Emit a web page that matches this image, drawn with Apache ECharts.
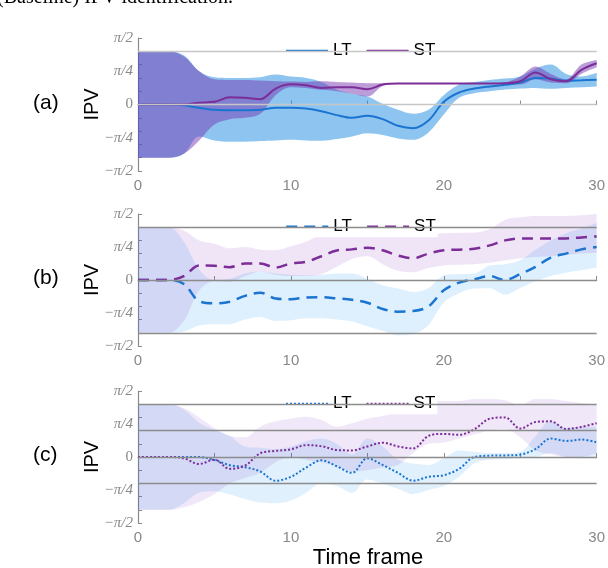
<!DOCTYPE html>
<html><head><meta charset="utf-8">
<script src="https://cdn.jsdelivr.net/npm/echarts@6/dist/echarts.min.js"></script>
<style>html,body{margin:0;padding:0;background:#fff}#c{width:608px;height:568px}</style>
</head><body><div id="c"></div>
<script>
// Time frames (x) and tick labels
const frames = [0,1,2,3,4,5,6,7,8,9,10,11,12,13,14,15,16,17,18,19,20,21,22,23,24,25,26,27,28,29,30];
const xTickLabels = ['0','10','20','30'];
const yTickLabels = ['−π/2','−π/4','0','π/4','π/2'];
const panelLabels = ['(a)','(b)','(c)'];
const legendNames = ['LT','ST'];
const titleText = '(Baseline) IPV identification.';
const xName = 'Time frame';
const yName = 'IPV';
// IPV values below are in units of π
// (a)
const aLT   = [0,0,0,-0.005,-0.025,-0.04,-0.043,-0.043,-0.04,-0.025,-0.024,-0.03,-0.05,-0.08,-0.1,-0.085,-0.11,-0.16,-0.178,-0.12,0.02,0.09,0.12,0.136,0.148,0.165,0.2,0.195,0.178,0.182,0.187];
const aLTup = [0.4,0.4,0.4,0.37,0.25,0.205,0.2,0.2,0.205,0.225,0.21,0.2,0.17,0.11,0.08,0.06,0.005,-0.04,-0.07,-0.04,0.07,0.15,0.17,0.185,0.195,0.21,0.27,0.3,0.23,0.21,0.238];
const aLTlo = [-0.4,-0.4,-0.4,-0.37,-0.24,-0.27,-0.28,-0.28,-0.275,-0.27,-0.265,-0.27,-0.273,-0.26,-0.24,-0.217,-0.23,-0.255,-0.265,-0.21,-0.075,0.05,0.085,0.1,0.113,0.12,0.125,0.118,0.125,0.13,0.136];
const aST   = [0,0,0,0,0.014,0.02,0.055,0.05,0.04,0.12,0.152,0.145,0.125,0.13,0.13,0.115,0.15,0.158,0.158,0.158,0.158,0.158,0.158,0.158,0.16,0.175,0.24,0.19,0.175,0.26,0.31];
const aSTup = [0.4,0.4,0.4,0.36,0.25,0.19,0.185,0.185,0.18,0.175,0.172,0.17,0.175,0.17,0.165,0.16,0.16,0.158,0.158,0.158,0.158,0.158,0.158,0.158,0.165,0.21,0.285,0.23,0.19,0.3,0.335];
const aSTlo = [-0.4,-0.4,-0.4,-0.37,-0.27,-0.15,-0.11,-0.1,-0.07,0.07,0.13,0.125,0.11,0.1,0.08,0.06,0.14,0.155,0.156,0.156,0.156,0.156,0.156,0.156,0.155,0.15,0.19,0.165,0.16,0.23,0.28];
// (b)
const bLT   = [0,0,0,-0.03,-0.16,-0.176,-0.165,-0.12,-0.097,-0.14,-0.146,-0.132,-0.13,-0.139,-0.15,-0.172,-0.22,-0.24,-0.235,-0.2,-0.078,-0.02,0.005,0.03,0.0,0.045,0.1,0.17,0.2,0.232,0.25];
const bLTup = [0.4,0.4,0.4,0.29,0.08,0.0,0.01,0.05,0.065,0.05,0.04,0.035,0.04,0.05,0.05,0.01,-0.04,-0.065,-0.09,-0.06,0.035,0.045,0.05,0.11,0.12,0.15,0.23,0.3,0.355,0.39,0.433];
const bLTlo = [-0.4,-0.4,-0.4,-0.39,-0.345,-0.335,-0.335,-0.3,-0.28,-0.31,-0.305,-0.29,-0.29,-0.3,-0.315,-0.35,-0.385,-0.42,-0.41,-0.34,-0.17,-0.1,-0.065,-0.062,-0.11,-0.06,-0.01,0.03,0.055,0.075,0.093];
const bST   = [0,0,0,0.03,0.11,0.108,0.097,0.125,0.125,0.095,0.125,0.138,0.18,0.224,0.232,0.244,0.225,0.185,0.165,0.2,0.225,0.23,0.237,0.262,0.3,0.315,0.315,0.315,0.315,0.322,0.33];
const bSTup = [0.4,0.4,0.4,0.375,0.3,0.275,0.24,0.25,0.23,0.225,0.255,0.29,0.345,0.37,0.335,0.36,0.36,0.355,0.35,0.35,0.355,0.357,0.36,0.385,0.455,0.475,0.485,0.485,0.485,0.49,0.5];
const bSTlo = [-0.4,-0.4,-0.4,-0.31,-0.08,-0.01,-0.015,0.03,0.065,0.04,0.03,0.03,0.045,0.1,0.16,0.18,0.12,0.07,0.058,0.09,0.11,0.115,0.12,0.13,0.15,0.165,0.175,0.18,0.19,0.2,0.206];
// (c)
const cLT   = [0,0,0,0,0,-0.023,-0.062,-0.077,-0.11,-0.18,-0.15,-0.08,-0.025,-0.07,-0.12,-0.01,-0.06,-0.12,-0.18,-0.15,-0.138,-0.09,0.0,0.01,0.012,0.018,0.06,0.14,0.122,0.132,0.111];
const cLTup = [0.4,0.4,0.4,0.36,0.26,0.205,0.16,0.08,0.07,0.06,0.08,0.12,0.14,0.1,0.02,0.14,0.08,-0.02,-0.05,-0.06,-0.01,0.05,0.04,0.03,0.03,0.04,0.16,0.27,0.22,0.23,0.23];
const cLTlo = [-0.4,-0.4,-0.4,-0.35,-0.27,-0.26,-0.285,-0.32,-0.345,-0.35,-0.33,-0.27,-0.2,-0.22,-0.27,-0.17,-0.2,-0.24,-0.28,-0.25,-0.22,-0.15,-0.05,-0.02,-0.015,-0.01,0.0,0.03,0.0,-0.01,-0.01];
const cST   = [0,0,0,-0.01,-0.053,-0.02,-0.09,-0.065,0.028,0.046,0.058,0.09,0.082,0.053,0.05,0.08,0.108,0.08,0.065,0.16,0.175,0.168,0.21,0.29,0.3,0.215,0.265,0.27,0.212,0.228,0.256];
const cSTup = [0.4,0.4,0.4,0.37,0.3,0.22,0.16,0.15,0.23,0.27,0.29,0.305,0.28,0.23,0.255,0.29,0.31,0.34,0.39,0.42,0.425,0.425,0.44,0.44,0.43,0.395,0.44,0.44,0.425,0.41,0.395];
const cSTlo = [-0.4,-0.4,-0.4,-0.38,-0.34,-0.28,-0.2,-0.16,-0.12,-0.04,0.0,-0.02,-0.04,-0.07,-0.11,-0.1,-0.08,-0.06,0.03,0.1,0.11,0.14,0.17,0.2,0.21,0.15,0.05,0.02,0.0,0.0,0.03];
// horizontal reference lines per panel
const aRefLines = [0.4, 0];
const bRefLines = [0.4, 0, -0.4];
const cRefLines = [0.4, 0.2, 0, -0.2];

const panels = [
  {LT:aLT, LTup:aLTup, LTlo:aLTlo, ST:aST, STup:aSTup, STlo:aSTlo, ref:aRefLines},
  {LT:bLT, LTup:bLTup, LTlo:bLTlo, ST:bST, STup:bSTup, STlo:bSTlo, ref:bRefLines},
  {LT:cLT, LTup:cLTup, LTlo:cLTlo, ST:cST, STup:cSTup, STlo:cSTlo, ref:cRefLines}
];
// styles
const tops = [38, 214, 391];
const heights = [133, 132, 132];
const LTcolor = '#1a74d0', STcolor = '#7b2d98';
const bandLT = ['rgba(30,140,225,0.5)','rgba(0,140,240,0.13)','rgba(0,140,240,0.12)'];
const bandST = ['rgba(115,50,175,0.48)','rgba(120,40,190,0.12)','rgba(120,40,190,0.11)'];
const refColor = ['#c6c6c6','#8c8c8c','#8c8c8c'];
const lineTypes = ['solid', [11,7], [2,2]];
const lineWidths = [2, 2.5, 2];
const axisGray = '#8c8c8c';
const SM = 0.35;

const diff = (up, lo) => up.map((u,i) => u - lo[i]);

const grid = [], xAxis = [], yAxis = [], series = [], legend = [], graphic = [];
panels.forEach((p, k) => {
  grid.push({left:138, right:9, top:tops[k], height:heights[k]});
  xAxis.push({gridIndex:k, type:'category', data:frames, boundaryGap:false,
    axisLine:{lineStyle:{color:axisGray, width:1.2}},
    axisTick:{inside:true, length:4, interval:4, lineStyle:{color:axisGray}},
    splitLine:{show:false},
    axisLabel:{interval:9, margin:7, color:'#888', fontSize:15, fontFamily:'Liberation Sans',
      formatter: v => xTickLabels[Number(v)/10]}
  });
  yAxis.push({gridIndex:k, type:'value', min:-0.5, max:0.5, interval:0.1, position:'left',
    axisLine:{show:true, lineStyle:{color:axisGray, width:1.2}},
    axisTick:{show:true, inside:true, length:4, lineStyle:{color:axisGray}},
    axisLabel:{show:false}, splitLine:{show:false}
  });
  yAxis.push({gridIndex:k, type:'value', min:-0.5, max:0.5, interval:0.25, position:'left',
    axisLine:{show:false}, axisTick:{show:false}, splitLine:{show:false},
    axisLabel:{margin:5, color:'#888', fontSize:15, fontFamily:'Liberation Serif',
      formatter: v => { const s = yTickLabels[Math.round((v + 0.5) * 4)]; return s === '0' ? '{n|0}' : '{i|' + s + '}'; },
      rich:{ i:{fontStyle:'italic', fontFamily:'Liberation Serif', fontSize:15, color:'#888'},
             n:{fontFamily:'Liberation Serif', fontSize:15, color:'#888'} }
    }
  });
  const yi = 2*k;
  const zw = '\u200b'.repeat(k);
  // reference lines
  series.push({type:'line', name:'ref'+k, xAxisIndex:k, yAxisIndex:yi, data:[0], symbol:'none', z:1,
    lineStyle:{opacity:0}, silent:true,
    markLine:{silent:true, symbol:'none', label:{show:false}, animation:false,
      lineStyle:{color:refColor[k], width:1.3, type:'solid'},
      data: p.ref.map(v => ({yAxis:v}))}
  });
  // bands
  [['LT', p.LTup, p.LTlo, bandLT[k]], ['ST', p.STup, p.STlo, bandST[k]]].forEach(([nm, up, lo, col]) => {
    series.push({type:'line', name:nm+'lo'+k, xAxisIndex:k, yAxisIndex:yi, stack:nm+'band'+k, stackStrategy:'all',
      data:lo, symbol:'none', smooth:SM, lineStyle:{opacity:0}, z:2, silent:true});
    series.push({type:'line', name:nm+'bw'+k, xAxisIndex:k, yAxisIndex:yi, stack:nm+'band'+k, stackStrategy:'all',
      data:diff(up, lo), symbol:'none', smooth:SM, lineStyle:{opacity:0}, areaStyle:{color:col, opacity:1}, z:2, silent:true});
  });
  // mean lines
  series.push({type:'line', name:legendNames[0]+zw, xAxisIndex:k, yAxisIndex:yi, data:p.LT, symbol:'none', showSymbol:false,
    smooth:SM, z:3, lineStyle:{color:LTcolor, width:lineWidths[k], type:lineTypes[k]}, itemStyle:{color:LTcolor}});
  series.push({type:'line', name:legendNames[1]+zw, xAxisIndex:k, yAxisIndex:yi, data:p.ST, symbol:'none', showSymbol:false,
    smooth:SM, z:3, lineStyle:{color:STcolor, width:lineWidths[k], type:lineTypes[k]}, itemStyle:{color:STcolor}});
  legend.push({data:[legendNames[0]+zw, legendNames[1]+zw], left:277, top:tops[k] + 0.1*heights[k] - 11,
    backgroundColor:'#fff', padding:[2,2,2,8], itemWidth:42, itemHeight:14, itemGap:14, selectedMode:false,
    itemStyle:{opacity:0}, lineStyle:{width:lineWidths[k]},
    formatter: n => n.replace(/\u200b/g, ''),
    textStyle:{fontSize:17, color:'#000', fontFamily:'Liberation Sans'}});
  const zeroY = tops[k] + heights[k]/2;
  graphic.push({type:'text', left:33, top:zeroY - 12, style:{text:panelLabels[k], fontSize:21, fontFamily:'Liberation Sans', fill:'#000'}});
  graphic.push({type:'text', x:92, y:zeroY, rotation:Math.PI/2, style:{text:yName, fontSize:20, fontFamily:'Liberation Sans', fill:'#000', align:'center', verticalAlign:'middle'}});
});
graphic.push({type:'text', x:368, y:558, style:{text:xName, fontSize:22, fontFamily:'Liberation Sans', fill:'#000', align:'center', verticalAlign:'middle'}});
graphic.push({type:'text', x:-3, y:8, style:{text:titleText, fontSize:20, fontFamily:'Liberation Serif', fill:'#000', align:'left', verticalAlign:'bottom'}});

const chart = echarts.init(document.getElementById('c'), null, {renderer:'canvas'});
chart.setOption({animation:false, backgroundColor:'#fff', grid, xAxis, yAxis, series, legend, graphic});
</script></body></html>
